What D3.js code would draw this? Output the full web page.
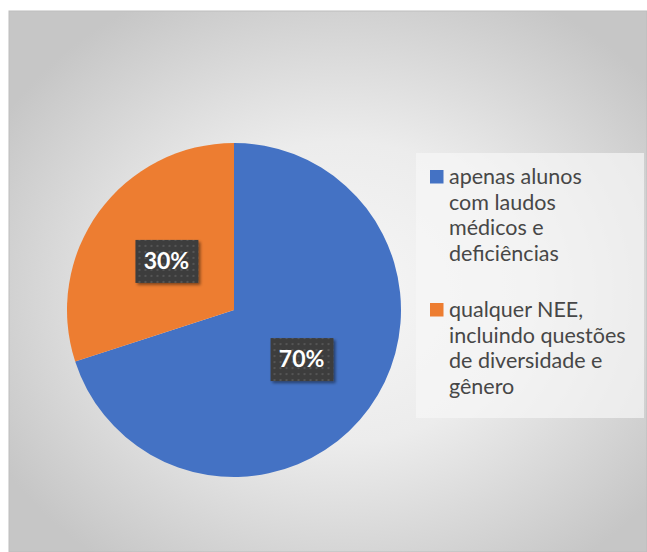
<!DOCTYPE html>
<html><head><meta charset="utf-8">
<script src="https://cdn.jsdelivr.net/npm/d3@7"></script>
<style>html,body{margin:0;padding:0;background:#fff;}svg{display:block;}</style>
</head><body>
<script>
const categories = ["apenas alunos com laudos médicos e deficiências", "qualquer NEE, incluindo questões de diversidade e gênero"];
const values = [70, 30];
const labels = ["70%", "30%"];
const legendLines = [["apenas alunos", "com laudos", "médicos e", "deficiências"], ["qualquer NEE,", "incluindo questões", "de diversidade e", "gênero"]];
const colors = ["#4472C4", "#ED7D31"];

const W = 647, H = 552;
const svg = d3.select("body").append("svg").attr("width", W).attr("height", H);
const defs = svg.append("defs");

const rg = defs.append("radialGradient").attr("id", "bg").attr("cx", "52%").attr("cy", "52%").attr("r", "62%");
rg.append("stop").attr("offset", "0%").attr("stop-color", "#f6f6f6");
rg.append("stop").attr("offset", "45%").attr("stop-color", "#ececec");
rg.append("stop").attr("offset", "100%").attr("stop-color", "#c6c6c6");

const pat = defs.append("pattern").attr("id", "dots").attr("width", 6).attr("height", 6).attr("patternUnits", "userSpaceOnUse");
pat.append("rect").attr("width", 6).attr("height", 6).attr("fill", "#3d3d3d");
pat.append("rect").attr("x", 2).attr("y", 2).attr("width", 2).attr("height", 2).attr("fill", "#555555");

const sh = defs.append("filter").attr("id", "sh").attr("x", "-20%").attr("y", "-20%").attr("width", "150%").attr("height", "150%");
sh.append("feDropShadow").attr("dx", 2).attr("dy", 2).attr("stdDeviation", 1.5).attr("flood-color", "#000").attr("flood-opacity", 0.45);

svg.append("rect").attr("x", 9).attr("y", 11).attr("width", W - 9).attr("height", H - 11)
  .attr("fill", "url(#bg)").attr("stroke", "#bdbdbd").attr("stroke-width", 1);

const cx = 234, cy = 310, R = 167;
const pie = d3.pie().sort(null).value(d => d)(values);
const arc = d3.arc().innerRadius(0).outerRadius(R);
const g = svg.append("g").attr("transform", `translate(${cx},${cy})`);
g.selectAll("path").data(pie).join("path").attr("d", arc).attr("fill", (d, i) => colors[i]);

const labelArc = d3.arc().innerRadius(0).outerRadius(R * 1.0);
const lg = g.selectAll("g.lbl").data(pie).join("g").attr("class", "lbl")
  .attr("transform", d => { const c = labelArc.centroid(d); return `translate(${c[0]},${c[1]})`; });
lg.append("rect").attr("x", -31).attr("y", -21).attr("width", 63).attr("height", 43)
  .attr("fill", "url(#dots)").attr("filter", "url(#sh)");
lg.append("text").text((d, i) => labels[i]).attr("text-anchor", "middle").attr("dy", "0.36em")
  .attr("fill", "#fff").attr("font-family", "Lato, 'Open Sans', sans-serif").attr("font-weight", "bold").attr("font-size", 23);

// legend
svg.append("rect").attr("x", 416).attr("y", 153).attr("width", 228).attr("height", 265).attr("fill", "#f7f7f7").attr("opacity", 0.7);
const leg = svg.append("g");
const starts = [170, 303];
legendLines.forEach((lines, i) => {
  leg.append("rect").attr("x", 430).attr("y", starts[i]).attr("width", 13.5).attr("height", 13.5).attr("fill", colors[i]);
  const t = leg.append("text").attr("x", 449).attr("y", starts[i] + 14)
    .attr("font-family", "Lato, 'Open Sans', sans-serif").attr("font-size", 21.5).attr("fill", "#474747");
  lines.forEach((ln, j) => {
    t.append("tspan").attr("x", 449).attr("y", starts[i] + 14 + j * 25.5).text(ln);
  });
});
</script>
</body></html>
